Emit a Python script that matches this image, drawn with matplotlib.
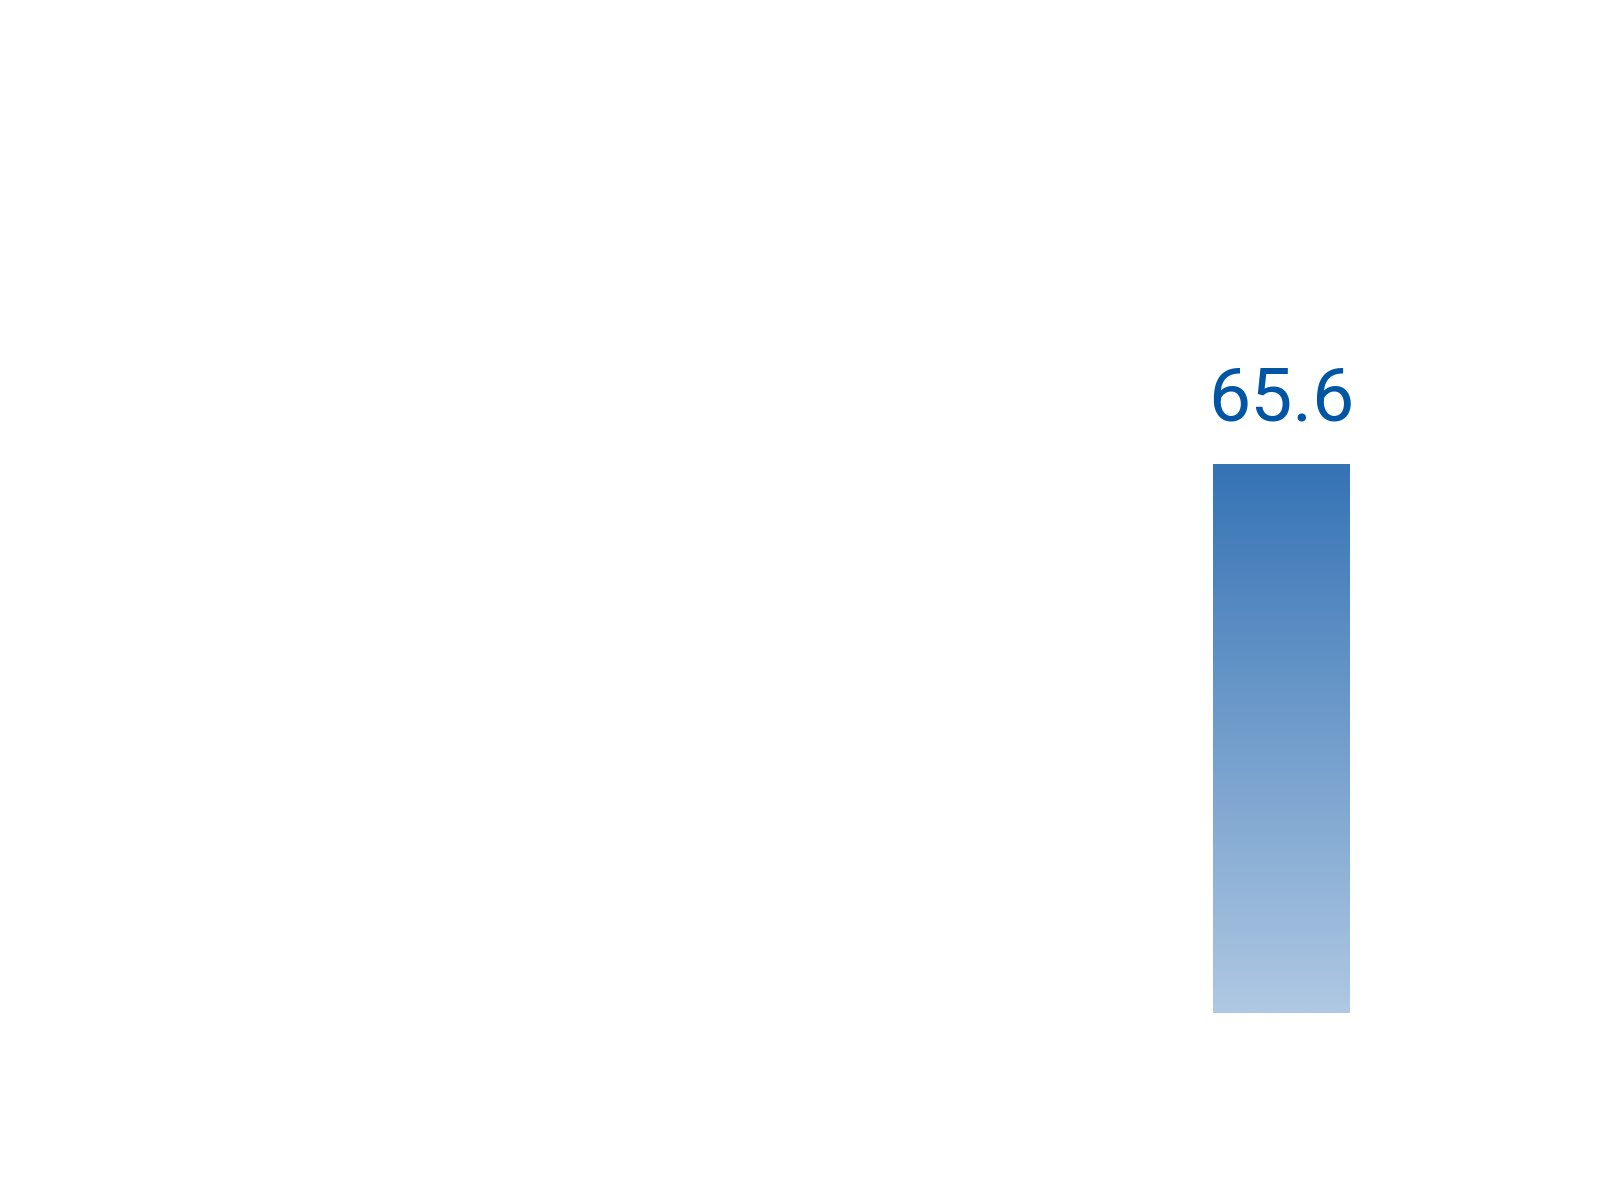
import numpy as np
import matplotlib.pyplot as plt
from matplotlib.colors import LinearSegmentedColormap

categories = ['']
values = [65.6]

bar_top_color = '#3573b5'
bar_bottom_color = '#afc8e3'
label_color = '#0055a4'

fig = plt.figure(figsize=(16, 12), dpi=100)
ax = fig.add_axes([0, 0, 1, 1])
ax.set_xlim(-5.64, 1.405)
ax.set_ylim(-22.3, 121.0)
ax.axis('off')

cmap = LinearSegmentedColormap.from_list('bar', [bar_bottom_color, bar_top_color])
grad = np.linspace(0, 1, 256).reshape(-1, 1)

bars = ax.bar(range(len(values)), values, width=0.6, color='none', edgecolor='none')
for rect, v in zip(bars, values):
    x0 = rect.get_x()
    w = rect.get_width()
    im = ax.imshow(grad, extent=[x0, x0 + w, 0, v], origin='lower', cmap=cmap,
                   aspect='auto', zorder=2)
    im.set_clip_path(rect)
    ax.annotate(f'{v:.1f}', (x0 + w / 2, v), xytext=(0, 31), textcoords='offset points',
                ha='center', va='baseline', fontsize=54, color=label_color,
                family=['Roboto', 'DejaVu Sans'])

ax.set_xlim(-5.64, 1.405)
ax.set_ylim(-22.3, 121.0)
fig.savefig('out.png')
